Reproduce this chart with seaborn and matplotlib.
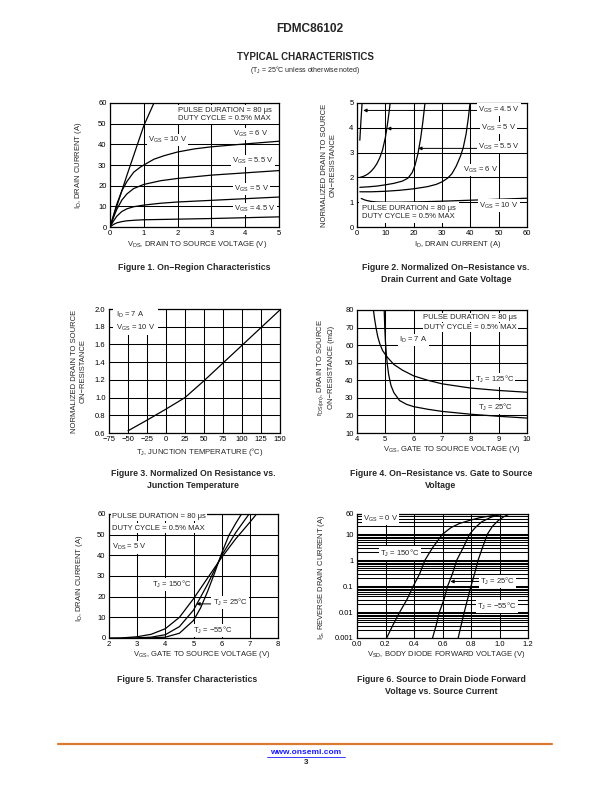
import numpy as np
import pandas as pd
import seaborn as sns
import matplotlib.pyplot as plt
from matplotlib.ticker import LogLocator, NullFormatter
from matplotlib.lines import Line2D

# ---- Figure 1: On-region characteristics (ID vs VDS) ----
f1_vds_10v = [0, 0.25, 0.5, 0.75, 1.0, 1.15, 1.3]
f1_id_10v = [0, 12.5, 25, 37, 49, 54.5, 60]
f1_vds_6v = [0, 0.1, 0.2, 0.35, 0.5, 0.7, 0.9, 1.0, 1.3, 1.6, 2.0, 2.5, 3.0, 4.0, 5.0]
f1_id_6v = [0, 5.5, 11, 17.5, 22, 26.5, 29, 30, 32.8, 34.5, 36.3, 37.8, 38.8, 40.2, 41.5]
f1_vds_55v = [0, 0.1, 0.2, 0.35, 0.5, 0.7, 1.0, 1.5, 2, 3, 4, 5]
f1_id_55v = [0, 4.5, 8.5, 13, 16, 18.6, 20.6, 22.4, 23.5, 25.1, 26.2, 27.3]
f1_vds_5v = [0, 0.1, 0.2, 0.35, 0.5, 0.7, 1, 1.5, 2, 3, 4, 5]
f1_id_5v = [0, 2.8, 5.2, 7.5, 8.8, 9.8, 10.6, 11.5, 12.1, 12.9, 13.7, 14.5]
f1_vds_45v = [0, 0.1, 0.2, 0.35, 0.5, 0.75, 1, 2, 3, 4, 5]
f1_id_45v = [0, 1.2, 2.0, 2.6, 3.0, 3.3, 3.5, 3.8, 4.1, 4.5, 4.9]

# ---- Figure 2: normalized RDS(on) vs ID ----
f2_id_45v = [1.0, 1.2, 1.4, 1.6, 1.8]
f2_r_45v = [3.5, 3.9, 4.3, 4.65, 5.0]
f2_id_5v = [1, 2, 3, 4, 5, 6, 7, 8, 9, 10, 10.5, 11, 11.5, 12]
f2_r_5v = [2.0, 2.03, 2.08, 2.15, 2.25, 2.38, 2.55, 2.78, 3.1, 3.6, 3.95, 4.35, 4.8, 5.3]
f2_id_55v = [1, 4, 7, 10, 13, 16, 18, 19.5, 20.5, 21.5, 22.5, 23.2, 23.8, 24.3]
f2_r_55v = [1.6, 1.62, 1.65, 1.7, 1.76, 1.85, 1.97, 2.2, 2.5, 2.95, 3.6, 4.2, 4.8, 5.3]
f2_id_6v = [1, 5, 10, 15, 20, 25, 28, 30, 32, 33.5, 35, 36.5, 37.5, 38.5, 39.3, 40]
f2_r_6v = [1.42, 1.42, 1.44, 1.48, 1.54, 1.63, 1.72, 1.82, 1.97, 2.15, 2.45, 2.85, 3.2, 3.75, 4.4, 5.1]
f2_id_10v = [1.5, 3, 5, 7, 10, 15, 20, 30, 40, 50, 60]
f2_r_10v = [1.15, 1.08, 1.03, 1.01, 1.0, 1.0, 1.01, 1.04, 1.08, 1.12, 1.16]

# ---- Figure 3: normalized RDS(on) vs TJ ----
f3_tj = [-50, -25, 0, 25, 50, 75, 100, 125, 150]
f3_r = [0.625, 0.745, 0.87, 1.0, 1.19, 1.39, 1.59, 1.79, 1.99]

# ---- Figure 4: RDS(on) vs VGS ----
f4_vgs_125 = [4.58, 4.62, 4.67, 4.73, 4.8, 4.9, 5.05, 5.3, 5.6, 6.0, 6.5, 7.0, 8.0, 9.0, 10.0]
f4_r_125 = [80, 75, 70, 65, 61, 57, 53.5, 49, 45.8, 42.5, 40, 38, 35.6, 34.2, 33.2]
f4_vgs_25 = [4.96, 4.97, 4.98, 5.0, 5.03, 5.07, 5.12, 5.2, 5.3, 5.5, 5.75, 6.0, 6.5, 7.0, 8.0, 9.0, 10.0]
f4_r_25 = [80, 75, 70, 63, 56, 49, 43, 37, 33, 28.5, 26.3, 25, 23.5, 22.3, 20.7, 19.5, 18.5]

# ---- Figure 5: transfer characteristics ----
f5_vgs_150 = [2.0, 2.5, 3.0, 3.5, 4.0, 4.5, 5.0, 5.5, 6.0, 6.5, 7.0, 7.3]
f5_id_150 = [0, 0.1, 0.6, 1.8, 4.5, 10, 19, 29, 39, 48, 56, 61]
f5_vgs_25 = [2.5, 3.0, 3.5, 4.0, 4.5, 5.0, 5.5, 6.0, 6.5, 7.0]
f5_id_25 = [0, 0.05, 0.4, 1.6, 5.5, 13.5, 26, 40, 51, 60.5]
f5_vgs_m55 = [3.0, 3.5, 4.0, 4.5, 5.0, 5.25, 5.5, 5.75, 6.0, 6.25, 6.5, 6.75]
f5_id_m55 = [0, 0.05, 0.4, 2.3, 8.5, 14.5, 22.5, 31.5, 41, 49.5, 55.5, 61]

# ---- Figure 6: body diode forward voltage ----
f6_vsd_150 = [0.208, 0.25, 0.30, 0.35, 0.395, 0.44, 0.477, 0.53, 0.60, 0.66, 0.72, 0.79, 0.86, 0.95, 1.05]
f6_is_150 = [0.001, 0.003, 0.01, 0.03, 0.1, 0.3, 1, 3, 10, 18, 26, 34, 43, 52, 60]
f6_vsd_25 = [0.53, 0.555, 0.578, 0.61, 0.636, 0.67, 0.70, 0.745, 0.79, 0.83, 0.875, 0.94, 1.015]
f6_is_25 = [0.001, 0.003, 0.01, 0.03, 0.1, 0.3, 1, 3, 10, 18, 30, 45, 60]
f6_vsd_m55 = [0.71, 0.73, 0.753, 0.775, 0.80, 0.825, 0.85, 0.88, 0.915, 0.95, 0.99, 1.03, 1.07]
f6_is_m55 = [0.001, 0.003, 0.01, 0.03, 0.1, 0.3, 1, 3, 10, 20, 33, 47, 60]

sns.set_theme(style="white")
plt.rcParams['font.family'] = ['Liberation Sans', 'DejaVu Sans']
plt.rcParams['mathtext.fontset'] = 'custom'
plt.rcParams['mathtext.rm'] = 'Liberation Sans'
plt.rcParams['mathtext.default'] = 'regular'

FS = 5.5
W, H = 612, 792
fig = plt.figure(figsize=(W / 100, H / 100), dpi=100)


def px_axes(x0, x1, y0, y1):
    return fig.add_axes([x0 / W, 1 - y1 / H, (x1 - x0) / W, (y1 - y0) / H])


def setup(ax, xlim, ylim, xticks, yticks, xtl=None, ytl=None):
    ax.set_xlim(xlim)
    ax.set_ylim(ylim)
    ax.set_xticks(xticks)
    ax.set_yticks(yticks)
    if xtl is not None:
        ax.set_xticklabels(xtl)
    if ytl is not None:
        ax.set_yticklabels(ytl)
    ax.set_axisbelow(True)
    ax.grid(True, color='black', linewidth=0.75)
    ax.tick_params(length=0, labelsize=FS, pad=2.5, colors='black')
    for s in ax.spines.values():
        s.set_color('black')
        s.set_linewidth(0.9)


def curve(ax, x, y):
    sns.lineplot(x=x, y=y, ax=ax, color='black', linewidth=0.9, estimator=None, sort=False)


def lab(ax, x, y, s, ha='center', pad=0.8):
    ax.text(x, y, s, ha=ha, va='center', fontsize=FS, zorder=5,
            bbox=dict(facecolor='white', edgecolor='none', pad=pad))


def arrow(ax, x0, x1, y):
    ax.annotate('', xy=(x1, y), xytext=(x0, y), zorder=4,
                arrowprops=dict(arrowstyle='-|>', color='black', lw=0.7, mutation_scale=5,
                                shrinkA=0, shrinkB=0))


def labels(ax, xl, yl, xc, xy, yx, yy):
    ax.set_xlabel(xl, fontsize=FS)
    ax.set_ylabel(yl, fontsize=FS, linespacing=1.3)
    ax.xaxis.set_label_coords(xc, xy)
    ax.yaxis.set_label_coords(yx, yy)
    ax.xaxis.label.set_va('top')


vgs = 'V$_{GS}$'
tj = 'T$_J$'
pulse = 'PULSE DURATION = 80 \u03bcs'
duty = 'DUTY CYCLE = 0.5% MAX'

# Figure 1
ax1 = px_axes(110, 279, 103, 227)
setup(ax1, (0, 5), (0, 60), range(0, 6), range(0, 70, 10))
for x, y in [(f1_vds_10v, f1_id_10v), (f1_vds_6v, f1_id_6v), (f1_vds_55v, f1_id_55v),
             (f1_vds_5v, f1_id_5v), (f1_vds_45v, f1_id_45v)]:
    curve(ax1, x, y)
ax1.text(2.0, 54.5, pulse + '\n' + duty, ha='left', va='center', fontsize=FS, linespacing=1.2,
         zorder=5, bbox=dict(facecolor='white', edgecolor='none', pad=1.5))
lab(ax1, 1.7, 42.1, vgs + ' = 10 V')
lab(ax1, 4.16, 45, vgs + ' = 6 V')
lab(ax1, 4.22, 31.9, vgs + ' = 5.5 V')
lab(ax1, 4.18, 18.5, vgs + ' = 5 V')
lab(ax1, 4.28, 8.6, vgs + ' = 4.5 V')
labels(ax1, 'V$_{DS}$, DRAIN TO SOURCE VOLTAGE (V)', 'I$_D$, DRAIN CURRENT (A)',
       0.515, -0.097, -0.154, 0.5)

# Figure 2
ax2 = px_axes(357, 527, 103, 227)
setup(ax2, (0, 60), (0, 5), range(0, 70, 10), range(0, 6))
for x, y in [(f2_id_45v, f2_r_45v), (f2_id_5v, f2_r_5v), (f2_id_55v, f2_r_55v),
             (f2_id_6v, f2_r_6v), (f2_id_10v, f2_r_10v)]:
    curve(ax2, x, y)
arrow(ax2, 42.5, 2.2, 4.7)
arrow(ax2, 43.0, 10.6, 3.97)
arrow(ax2, 43.0, 21.6, 3.17)
lab(ax2, 50, 4.73, vgs + ' = 4.5 V')
lab(ax2, 50, 4.0, vgs + ' = 5 V')
lab(ax2, 50, 3.23, vgs + ' = 5.5 V')
lab(ax2, 43.5, 2.3, vgs + ' = 6 V')
lab(ax2, 50, 0.87, vgs + ' = 10 V')
ax2.text(1.8, 0.585, pulse + '\n' + duty, ha='left', va='center', fontsize=FS, linespacing=1.2,
         zorder=5, bbox=dict(facecolor='white', edgecolor='none', pad=2.0))
labels(ax2, 'I$_D$, DRAIN CURRENT (A)', 'NORMALIZED DRAIN TO SOURCE\nON\u2212RESISTANCE',
       0.59, -0.097, -0.118, 0.5)

# Figure 3
ax3 = px_axes(109, 280, 309, 433)
setup(ax3, (-75, 150), (0.6, 2.0), range(-75, 175, 25), np.arange(0.6, 2.01, 0.2),
      ytl=['0.6', '0.8', '1.0', '1.2', '1.4', '1.6', '1.8', '2.0'])
curve(ax3, f3_tj, f3_r)
ax3.text(-66, 1.86, 'I$_D$ = 7 A\n' + vgs + ' = 10 V', ha='left', va='center', fontsize=FS,
         linespacing=1.3, zorder=5, bbox=dict(facecolor='white', edgecolor='none', pad=2.0))
labels(ax3, tj + ', JUNCTION TEMPERATURE (\u00b0C)', 'NORMALIZED DRAIN TO SOURCE\nON\u2212RESISTANCE',
       0.53, -0.105, -0.129, 0.5)

# Figure 4
ax4 = px_axes(357, 527, 310, 433)
setup(ax4, (4, 10), (10, 80), range(4, 11), range(10, 90, 10))
curve(ax4, f4_vgs_125, f4_r_125)
curve(ax4, f4_vgs_25, f4_r_25)
lab(ax4, 8.0, 75.8, pulse)
lab(ax4, 8.0, 70, duty)
lab(ax4, 6.0, 63, 'I$_D$ = 7 A')
lab(ax4, 8.85, 40.3, tj + ' = 125\u00b0C')
lab(ax4, 8.9, 24.7, tj + ' = 25\u00b0C')
labels(ax4, vgs + ', GATE TO SOURCE VOLTAGE (V)',
       'r$_{DS(on)}$, DRAIN TO SOURCE\nON\u2212RESISTANCE (m\u03a9)',
       0.56, -0.09, -0.13, 0.53)

# Figure 5
ax5 = px_axes(109, 278, 514, 638)
setup(ax5, (2, 8), (0, 60), range(2, 9), range(0, 70, 10))
curve(ax5, f5_vgs_150, f5_id_150)
curve(ax5, f5_vgs_25, f5_id_25)
curve(ax5, f5_vgs_m55, f5_id_m55)
lab(ax5, 2.12, 59.0, pulse, ha='left')
lab(ax5, 2.12, 53.2, duty, ha='left')
lab(ax5, 2.12, 43.9, 'V$_{DS}$ = 5 V', ha='left')
lab(ax5, 4.24, 25.8, tj + ' = 150\u00b0C')
arrow(ax5, 5.7, 5.1, 16.5)
lab(ax5, 6.3, 17.3, tj + ' = 25\u00b0C')
lab(ax5, 5.68, 3.7, tj + ' = \u221255\u00b0C')
labels(ax5, vgs + ', GATE TO SOURCE VOLTAGE (V)', 'I$_D$, DRAIN CURRENT (A)',
       0.55, -0.09, -0.142, 0.48)

# Figure 6
ax6 = px_axes(357, 528, 514, 638)
ax6.set_yscale('log')
setup(ax6, (0, 1.2), (0.001, 60), np.arange(0, 1.21, 0.2), [0.001, 0.01, 0.1, 1, 10, 60],
      xtl=['0.0', '0.2', '0.4', '0.6', '0.8', '1.0', '1.2'],
      ytl=['0.001', '0.01', '0.1', '1', '10', '60'])
ax6.yaxis.set_minor_locator(LogLocator(base=10, subs=range(2, 10)))
ax6.yaxis.set_minor_formatter(NullFormatter())
ax6.grid(True, which='minor', axis='y', color='black', linewidth=0.75)
ax6.tick_params(which='minor', length=0)
curve(ax6, f6_vsd_150, f6_is_150)
curve(ax6, f6_vsd_25, f6_is_25)
curve(ax6, f6_vsd_m55, f6_is_m55)
lab(ax6, 0.165, 38.6, vgs + ' = 0 V')
lab(ax6, 0.30, 1.85, tj + ' = 150\u00b0C')
arrow(ax6, 0.86, 0.655, 0.151)
lab(ax6, 0.985, 0.151, tj + ' = 25\u00b0C')
lab(ax6, 0.98, 0.0166, tj + ' = \u221255\u00b0C')
labels(ax6, 'V$_{SD}$, BODY DIODE FORWARD VOLTAGE (V)', 'I$_S$, REVERSE DRAIN CURRENT (A)',
       0.52, -0.09, -0.175, 0.49)

# header
fig.text(310 / W, 1 - 29 / H, 'FDMC86102', ha='center', va='center', fontsize=8.6, fontweight='bold')
fig.text(305 / W, 1 - 57.5 / H, 'TYPICAL CHARACTERISTICS', ha='center', va='center',
         fontsize=7.0, fontweight='bold')
fig.text(305.5 / W, 1 - 70.5 / H, '(T$_J$ = 25\u00b0C unless otherwise noted)', ha='center',
         va='center', fontsize=5.0)

# captions
caps = [
    (194, 268, 'Figure 1. On\u2212Region Characteristics'),
    (446, 268, 'Figure 2. Normalized On\u2212Resistance vs.'),
    (446, 279, 'Drain Current and Gate Voltage'),
    (193, 474, 'Figure 3. Normalized On Resistance vs.'),
    (193, 486, 'Junction Temperature'),
    (441, 474, 'Figure 4. On\u2212Resistance vs. Gate to Source'),
    (441, 486, 'Voltage'),
    (187, 680, 'Figure 5. Transfer Characteristics'),
    (441, 680, 'Figure 6. Source to Drain Diode Forward'),
    (441, 692, 'Voltage vs. Source Current'),
]
for cx, cy, s in caps:
    fig.text(cx / W, 1 - cy / H, s, ha='center', va='center', fontsize=6.3, fontweight='bold')

# footer
fig.add_artist(Line2D([58 / W, 552 / W], [1 - 743.5 / H, 1 - 743.5 / H], color='#DC7A34', linewidth=1.6))
fig.text(306 / W, 1 - 752 / H, 'www.onsemi.com', ha='center', va='center', fontsize=6.0,
         fontweight='bold', color='#1a1aff')
fig.add_artist(Line2D([267 / W, 345 / W], [1 - 756.5 / H, 1 - 756.5 / H], color='#1a1aff', linewidth=0.6))
fig.text(306 / W, 1 - 762.5 / H, '3', ha='center', va='center', fontsize=5.8, fontweight='bold')

fig.savefig('out.png', dpi=100)
